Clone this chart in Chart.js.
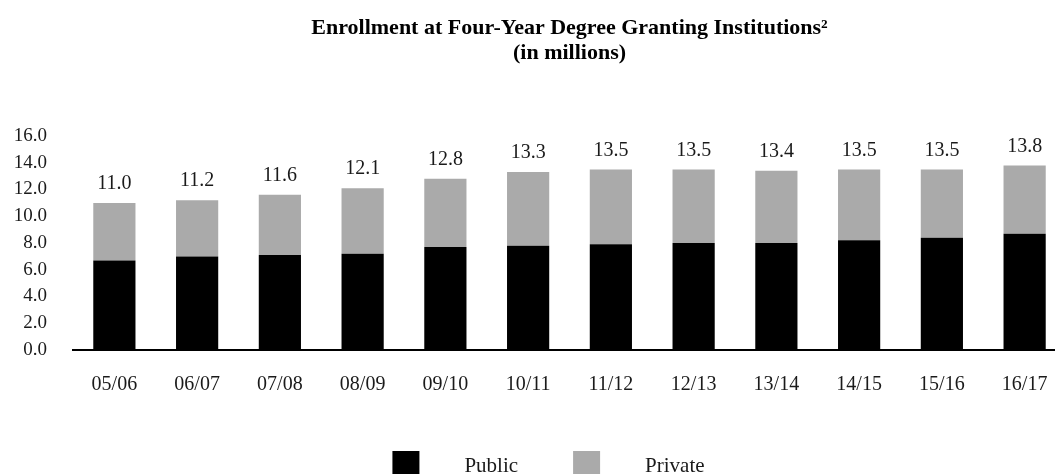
<!DOCTYPE html>
<html>
<head>
<meta charset="utf-8">
<script src="https://cdn.jsdelivr.net/npm/chart.js@4/dist/chart.umd.min.js"></script>
<style>
  html, body { margin: 0; padding: 0; background: #fff; }
  #wrap { width: 1055px; height: 474px; overflow: hidden; }
</style>
</head>
<body>
<div id="wrap">
  <canvas id="enrollChart" width="1140" height="474"></canvas>
</div>
<script>
// academic years
const years = ['05/06', '06/07', '07/08', '08/09', '09/10', '10/11', '11/12', '12/13', '13/14', '14/15', '15/16', '16/17'];
// enrollment in millions
const publicEnroll = [6.7, 7.0, 7.1, 7.2, 7.7, 7.8, 7.9, 8.0, 8.0, 8.2, 8.4, 8.7];
const privateEnroll = [4.3, 4.2, 4.5, 4.9, 5.1, 5.5, 5.6, 5.5, 5.4, 5.3, 5.1, 5.1];
const yTicks = [0, 2, 4, 6, 8, 10, 12, 14, 16];
const titleLines = ['Enrollment at Four-Year Degree Granting Institutions\u00b2', '(in millions)'];

const serif = '"Liberation Serif", "Times New Roman", serif';
const ctx = document.getElementById('enrollChart');

// heading centred over the plot area
const plotTitle = {
    id: 'plotTitle',
    afterDraw(chart) {
        const c = chart.ctx;
        const cx = (chart.chartArea.left + chart.chartArea.right) / 2;
        c.save();
        c.font = 'bold 22px ' + serif;
        c.fillStyle = '#000';
        c.textAlign = 'center';
        c.textBaseline = 'middle';
        titleLines.forEach((line, i) => c.fillText(line, cx, 28 + i * 25));
        c.restore();
    }
};

// total on top of each stacked column
const totalLabels = {
    id: 'totalLabels',
    afterDatasetsDraw(chart) {
        const c = chart.ctx;
        const top = chart.getDatasetMeta(chart.data.datasets.length - 1);
        c.save();
        c.font = '20px ' + serif;
        c.fillStyle = '#1a1a1a';
        c.textAlign = 'center';
        c.textBaseline = 'middle';
        top.data.forEach((bar, i) => {
            const total = publicEnroll[i] + privateEnroll[i];
            c.fillText(total.toFixed(1), bar.x, bar.y - 19);
        });
        c.restore();
    }
};

// legend row under the axis labels
const bottomLegend = {
    id: 'bottomLegend',
    afterDraw(chart) {
        const c = chart.ctx;
        const box = 27, gap = 45, itemGap = 55;
        c.save();
        c.font = '21px ' + serif;
        const items = chart.data.datasets.map(ds => ({
            label: ds.label, color: ds.backgroundColor, w: c.measureText(ds.label).width
        }));
        let total = 0;
        items.forEach((it, i) => { total += box + gap + it.w + (i ? itemGap : 0); });
        const cx = (chart.chartArea.left + chart.chartArea.right) / 2 - 21;
        let x = cx - total / 2;
        const y = 451;
        items.forEach(it => {
            c.fillStyle = it.color;
            c.fillRect(x, y, box, box);
            c.fillStyle = '#1a1a1a';
            c.textAlign = 'left';
            c.textBaseline = 'middle';
            c.fillText(it.label, x + box + gap, y + 15);
            x += box + gap + it.w + itemGap;
        });
        c.restore();
    }
};

new Chart(ctx, {
    type: 'bar',
    data: {
        labels: years,
        datasets: [{
            label: 'Public',
            data: publicEnroll,
            backgroundColor: '#000000',
            categoryPercentage: 1,
            barPercentage: 0.51
        }, {
            label: 'Private',
            data: privateEnroll,
            backgroundColor: '#aaaaaa',
            categoryPercentage: 1,
            barPercentage: 0.51
        }]
    },
    options: {
        responsive: false,
        animation: false,
        layout: { padding: { left: 0, right: 74, top: 136, bottom: 60 } },
        scales: {
            x: {
                stacked: true,
                grid: { display: false },
                border: { display: true, color: '#000', width: 2 },
                ticks: { color: '#1a1a1a', font: { family: serif, size: 20 }, padding: 15 },
                afterFit(scale) { scale.height = 64; }
            },
            y: {
                stacked: true,
                min: 0,
                max: 16,
                grid: { display: false },
                border: { display: false },
                afterBuildTicks(scale) { scale.ticks = yTicks.map(v => ({ value: v })); },
                ticks: {
                    color: '#1a1a1a',
                    font: { family: serif, size: 19 },
                    padding: 18,
                    callback: v => Number(v).toFixed(1)
                },
                afterFit(scale) { scale.width = 73; }
            }
        },
        plugins: {
            legend: { display: false },
            tooltip: { enabled: false },
            title: { display: false }
        }
    },
    plugins: [plotTitle, totalLabels, bottomLegend]
});
</script>
</body>
</html>
